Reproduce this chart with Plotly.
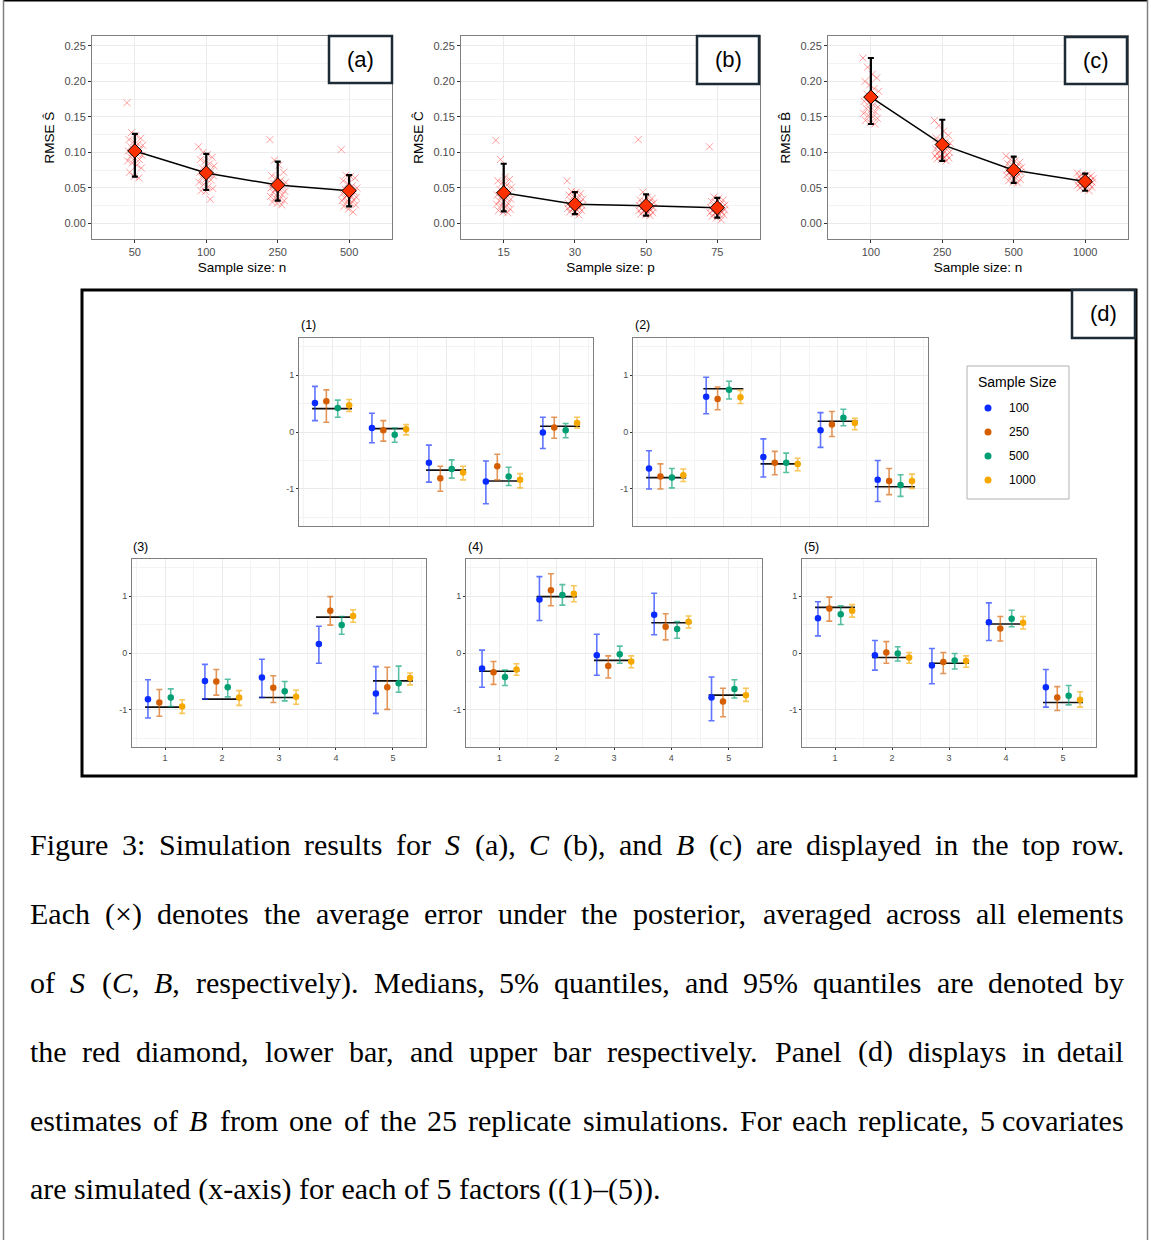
import plotly.graph_objects as go

# ======================= DATA: top row =======================
a_cats = ["50", "100", "250", "500"]
a_med = [0.102, 0.071, 0.054, 0.046]
a_q05 = [0.066, 0.047, 0.032, 0.024]
a_q95 = [0.126, 0.098, 0.087, 0.068]
a_pts_1 = [0.170, 0.128, 0.124, 0.120, 0.118, 0.115, 0.112, 0.110, 0.108, 0.106, 0.104, 0.102, 0.100,
           0.098, 0.096, 0.094, 0.092, 0.090, 0.088, 0.085, 0.082, 0.078, 0.072, 0.066, 0.064]
a_pts_2 = [0.108, 0.100, 0.097, 0.093, 0.090, 0.087, 0.084, 0.081, 0.078, 0.076, 0.074, 0.072, 0.071,
           0.069, 0.067, 0.065, 0.063, 0.061, 0.058, 0.055, 0.052, 0.049, 0.046, 0.045, 0.034]
a_pts_3 = [0.118, 0.089, 0.082, 0.072, 0.067, 0.064, 0.061, 0.058, 0.056, 0.054, 0.052, 0.050, 0.048,
           0.047, 0.045, 0.044, 0.042, 0.040, 0.038, 0.036, 0.034, 0.032, 0.030, 0.028, 0.026]
a_pts_4 = [0.104, 0.068, 0.066, 0.064, 0.060, 0.056, 0.053, 0.050, 0.048, 0.046, 0.044, 0.042, 0.040,
           0.038, 0.037, 0.036, 0.034, 0.033, 0.032, 0.030, 0.028, 0.026, 0.024, 0.020, 0.016]

b_cats = ["15", "30", "50", "75"]
b_med = [0.043, 0.027, 0.025, 0.022]
b_q05 = [0.017, 0.013, 0.011, 0.008]
b_q95 = [0.084, 0.044, 0.041, 0.036]
b_pts_1 = [0.117, 0.090, 0.065, 0.062, 0.060, 0.057, 0.054, 0.051, 0.048, 0.045, 0.042, 0.040, 0.038,
           0.036, 0.034, 0.032, 0.030, 0.028, 0.027, 0.025, 0.023, 0.020, 0.018, 0.016, 0.015]
b_pts_2 = [0.060, 0.045, 0.044, 0.042, 0.040, 0.038, 0.036, 0.034, 0.032, 0.030, 0.029, 0.028, 0.027,
           0.026, 0.025, 0.024, 0.023, 0.022, 0.021, 0.020, 0.019, 0.018, 0.016, 0.014, 0.012]
b_pts_3 = [0.118, 0.044, 0.037, 0.035, 0.033, 0.031, 0.030, 0.029, 0.028, 0.027, 0.026, 0.025, 0.024,
           0.023, 0.022, 0.021, 0.020, 0.019, 0.018, 0.017, 0.016, 0.015, 0.013, 0.012, 0.011]
b_pts_4 = [0.108, 0.037, 0.035, 0.033, 0.031, 0.029, 0.027, 0.026, 0.025, 0.024, 0.023, 0.022, 0.021,
           0.020, 0.019, 0.018, 0.017, 0.016, 0.015, 0.014, 0.013, 0.012, 0.010, 0.008, 0.005]

c_cats = ["100", "250", "500", "1000"]
c_med = [0.178, 0.111, 0.075, 0.059]
c_q05 = [0.140, 0.088, 0.057, 0.046]
c_q95 = [0.233, 0.146, 0.094, 0.070]
c_pts_1 = [0.233, 0.220, 0.210, 0.205, 0.200, 0.195, 0.190, 0.186, 0.182, 0.178, 0.175, 0.172, 0.170,
           0.167, 0.164, 0.162, 0.160, 0.157, 0.155, 0.152, 0.150, 0.148, 0.145, 0.142, 0.140]
c_pts_2 = [0.145, 0.138, 0.130, 0.124, 0.120, 0.117, 0.115, 0.113, 0.111, 0.109, 0.107, 0.105, 0.103,
           0.101, 0.100, 0.099, 0.097, 0.096, 0.095, 0.094, 0.093, 0.092, 0.091, 0.090, 0.088]
c_pts_3 = [0.095, 0.090, 0.088, 0.086, 0.084, 0.082, 0.080, 0.079, 0.078, 0.077, 0.076, 0.075, 0.074,
           0.073, 0.072, 0.071, 0.070, 0.069, 0.068, 0.066, 0.064, 0.062, 0.060, 0.058, 0.057]
c_pts_4 = [0.071, 0.069, 0.068, 0.067, 0.066, 0.065, 0.064, 0.063, 0.062, 0.061, 0.060, 0.060, 0.059,
           0.058, 0.058, 0.057, 0.056, 0.055, 0.054, 0.053, 0.052, 0.051, 0.050, 0.048, 0.046]

top_yticks = [0.00, 0.05, 0.10, 0.15, 0.20, 0.25]

# ======================= DATA: panel (d) =======================
covariates = [1, 2, 3, 4, 5]
sample_sizes = ["100", "250", "500", "1000"]

f1_truth = [0.41, 0.06, -0.67, -0.86, 0.10]
f1_est_100 = [0.51, 0.07, -0.54, -0.87, -0.01]
f1_lo_100 = [0.20, -0.19, -0.88, -1.26, -0.29]
f1_hi_100 = [0.80, 0.33, -0.23, -0.51, 0.26]
f1_est_250 = [0.54, 0.03, -0.81, -0.60, 0.08]
f1_lo_250 = [0.17, -0.16, -1.04, -0.84, -0.11]
f1_hi_250 = [0.74, 0.20, -0.60, -0.39, 0.26]
f1_est_500 = [0.42, -0.05, -0.65, -0.78, 0.03]
f1_lo_500 = [0.26, -0.18, -0.81, -0.94, -0.10]
f1_hi_500 = [0.56, 0.07, -0.49, -0.62, 0.15]
f1_est_1000 = [0.47, 0.05, -0.71, -0.84, 0.16]
f1_lo_1000 = [0.36, -0.05, -0.84, -0.98, 0.07]
f1_hi_1000 = [0.57, 0.13, -0.60, -0.73, 0.26]

f2_truth = [-0.80, 0.76, -0.56, 0.19, -0.96]
f2_est_100 = [-0.64, 0.62, -0.44, 0.03, -0.84]
f2_lo_100 = [-1.00, 0.32, -0.79, -0.27, -1.22]
f2_hi_100 = [-0.33, 0.96, -0.12, 0.34, -0.50]
f2_est_250 = [-0.78, 0.58, -0.54, 0.13, -0.86]
f2_lo_250 = [-1.00, 0.39, -0.75, -0.08, -1.10]
f2_hi_250 = [-0.56, 0.79, -0.34, 0.36, -0.64]
f2_est_500 = [-0.80, 0.74, -0.54, 0.25, -0.93]
f2_lo_500 = [-0.98, 0.58, -0.71, 0.11, -1.13]
f2_hi_500 = [-0.64, 0.89, -0.37, 0.40, -0.75]
f2_est_1000 = [-0.76, 0.61, -0.56, 0.16, -0.86]
f2_lo_1000 = [-0.87, 0.50, -0.68, 0.04, -0.99]
f2_hi_1000 = [-0.65, 0.73, -0.46, 0.24, -0.74]

f3_truth = [-0.95, -0.81, -0.78, 0.63, -0.49]
f3_est_100 = [-0.81, -0.49, -0.43, 0.16, -0.71]
f3_lo_100 = [-1.14, -0.81, -0.78, -0.18, -1.06]
f3_hi_100 = [-0.47, -0.20, -0.11, 0.47, -0.24]
f3_est_250 = [-0.87, -0.50, -0.61, 0.74, -0.60]
f3_lo_250 = [-1.11, -0.74, -0.87, 0.49, -0.99]
f3_hi_250 = [-0.64, -0.29, -0.40, 0.99, -0.25]
f3_est_500 = [-0.78, -0.60, -0.67, 0.49, -0.53]
f3_lo_500 = [-0.94, -0.77, -0.84, 0.33, -0.69]
f3_hi_500 = [-0.63, -0.46, -0.50, 0.64, -0.23]
f3_est_1000 = [-0.94, -0.78, -0.77, 0.65, -0.44]
f3_lo_1000 = [-1.06, -0.92, -0.90, 0.54, -0.56]
f3_hi_1000 = [-0.82, -0.66, -0.65, 0.76, -0.35]

f4_truth = [-0.32, 0.99, -0.13, 0.53, -0.74]
f4_est_100 = [-0.27, 0.94, -0.04, 0.67, -0.78]
f4_lo_100 = [-0.60, 0.57, -0.39, 0.32, -1.19]
f4_hi_100 = [0.05, 1.34, 0.33, 1.05, -0.42]
f4_est_250 = [-0.34, 1.10, -0.23, 0.46, -0.85]
f4_lo_250 = [-0.55, 0.83, -0.44, 0.23, -1.12]
f4_hi_250 = [-0.15, 1.39, -0.05, 0.69, -0.62]
f4_est_500 = [-0.42, 1.02, -0.02, 0.42, -0.63]
f4_lo_500 = [-0.57, 0.84, -0.18, 0.26, -0.79]
f4_hi_500 = [-0.30, 1.20, 0.12, 0.55, -0.47]
f4_est_1000 = [-0.29, 1.04, -0.15, 0.55, -0.74]
f4_lo_1000 = [-0.39, 0.90, -0.26, 0.44, -0.85]
f4_hi_1000 = [-0.19, 1.18, -0.05, 0.65, -0.62]

f5_truth = [0.80, -0.08, -0.18, 0.51, -0.87]
f5_est_100 = [0.61, -0.04, -0.22, 0.54, -0.60]
f5_lo_100 = [0.30, -0.30, -0.54, 0.22, -0.95]
f5_hi_100 = [0.90, 0.22, 0.08, 0.88, -0.29]
f5_est_250 = [0.78, 0.01, -0.16, 0.43, -0.78]
f5_lo_250 = [0.56, -0.18, -0.36, 0.21, -1.01]
f5_hi_250 = [0.98, 0.20, 0.01, 0.64, -0.59]
f5_est_500 = [0.68, -0.01, -0.13, 0.60, -0.75]
f5_lo_500 = [0.50, -0.14, -0.28, 0.46, -0.91]
f5_hi_500 = [0.83, 0.11, -0.01, 0.75, -0.57]
f5_est_1000 = [0.74, -0.08, -0.14, 0.53, -0.82]
f5_lo_1000 = [0.63, -0.18, -0.25, 0.42, -0.95]
f5_hi_1000 = [0.85, 0.01, -0.05, 0.64, -0.68]

d_yticks = [-1, 0, 1]
d_yticktext = ["-1", "0", "1"]

caption_lines = [
    "Figure 3: Simulation results for <i>S</i> (a), <i>C</i> (b), and <i>B</i> (c) are displayed in the top row.",
    "Each (×) denotes the average error under the posterior, averaged across all elements",
    "of <i>S</i> (<i>C</i>, <i>B</i>, respectively).  Medians, 5% quantiles, and 95% quantiles are denoted by",
    "the red diamond, lower bar, and upper bar respectively.  Panel (d) displays in detail",
    "estimates of <i>B</i> from one of the 25 replicate simulations. For each replicate, 5 covariates",
    "are simulated (x-axis) for each of 5 factors ((1)–(5)).",
]

# ======================= LAYOUT HELPERS =======================
W, H = 1151, 1240
SANS = "Liberation Sans, Arial, sans-serif"
SERIF = "Liberation Serif, Times New Roman, serif"
GRID = "#EBEBEB"
MINOR = "#F3F3F3"
BORDER = "#7F7F7F"
TICKC = "#4D4D4D"
SS_COLORS = {"100": "#0A2BFF", "250": "#D55E00", "500": "#009E73", "1000": "#F5A800"}
SS_ERR = {"100": "rgba(10,43,255,0.65)", "250": "rgba(213,94,0,0.65)",
          "500": "rgba(0,158,115,0.65)", "1000": "rgba(245,168,0,0.65)"}


def fx(p):
    return p / W


def fy(p):
    return 1 - p / H


fig = go.Figure()
layout = dict(width=W, height=H, margin=dict(l=0, r=0, t=0, b=0),
              paper_bgcolor="white", plot_bgcolor="white", showlegend=False,
              font=dict(family=SANS))
shapes = []
annotations = []


def ax_names(k):
    return ("xaxis" if k == 1 else f"xaxis{k}", "yaxis" if k == 1 else f"yaxis{k}",
            "x" if k == 1 else f"x{k}", "y" if k == 1 else f"y{k}")


jit = [((i * 7) % 25 - 12) / 12 * 0.11 for i in range(25)]

top_panels = [
    dict(cats=a_cats, med=a_med, lo=a_q05, hi=a_q95, pts=[a_pts_1, a_pts_2, a_pts_3, a_pts_4],
         px=(92, 392), ytitle="RMSE Ŝ", xtitle="Sample size: n", tag="(a)", box=(329, 36, 392, 83)),
    dict(cats=b_cats, med=b_med, lo=b_q05, hi=b_q95, pts=[b_pts_1, b_pts_2, b_pts_3, b_pts_4],
         px=(461, 760), ytitle="RMSE Ĉ", xtitle="Sample size: p", tag="(b)", box=(697, 36, 759, 84)),
    dict(cats=c_cats, med=c_med, lo=c_q05, hi=c_q95, pts=[c_pts_1, c_pts_2, c_pts_3, c_pts_4],
         px=(828, 1128), ytitle="RMSE B̂", xtitle="Sample size: n", tag="(c)", box=(1065, 37, 1127, 84)),
]

k = 0
for p in top_panels:
    k += 1
    xa, ya, xr, yr = ax_names(k)
    pos = list(range(1, len(p["cats"]) + 1))
    layout[xa] = dict(domain=[fx(p["px"][0]), fx(p["px"][1])], anchor=yr, range=[0.4, 4.6],
                      tickmode="array", tickvals=pos, ticktext=p["cats"],
                      showgrid=True, gridcolor=GRID, gridwidth=1, zeroline=False,
                      showline=True, mirror=True, linecolor=BORDER, linewidth=1,
                      ticks="outside", ticklen=3, tickcolor="#333333",
                      tickfont=dict(size=11, color=TICKC, family=SANS),
                      title=dict(text=p["xtitle"], font=dict(size=13.5, color="black", family=SANS), standoff=5))
    layout[ya] = dict(domain=[fy(239), fy(36)], anchor=xr, range=[-0.022, 0.264],
                      tickmode="array", tickvals=top_yticks, ticktext=[f"{v:.2f}" for v in top_yticks],
                      showgrid=True, gridcolor=GRID, gridwidth=1, zeroline=False,
                      minor=dict(tickmode="array", tickvals=[v + 0.025 for v in top_yticks[:-1]],
                                 showgrid=True, gridcolor=MINOR, gridwidth=0.6, ticks=""),
                      showline=True, mirror=True, linecolor=BORDER, linewidth=1,
                      ticks="outside", ticklen=3, tickcolor="#333333",
                      tickfont=dict(size=11, color=TICKC, family=SANS),
                      title=dict(text=p["ytitle"], font=dict(size=13.5, color="black", family=SANS), standoff=6))
    xs, ys = [], []
    for ci, vals in enumerate(p["pts"]):
        for i, v in enumerate(vals):
            xs.append(pos[ci] + jit[i % 25])
            ys.append(v)
    fig.add_trace(go.Scatter(x=xs, y=ys, mode="markers", xaxis=xr, yaxis=yr,
                             marker=dict(symbol="x-thin", size=7, color="rgba(255,40,40,0.45)",
                                         line=dict(width=1, color="rgba(255,40,40,0.45)"))))
    fig.add_trace(go.Scatter(x=pos, y=p["med"], mode="lines", xaxis=xr, yaxis=yr,
                             line=dict(color="black", width=1.5)))
    fig.add_trace(go.Scatter(x=pos, y=p["med"], mode="markers", xaxis=xr, yaxis=yr,
                             marker=dict(size=1, color="rgba(0,0,0,0)"),
                             error_y=dict(type="data", symmetric=False,
                                          array=[h - m for h, m in zip(p["hi"], p["med"])],
                                          arrayminus=[m - l for m, l in zip(p["med"], p["lo"])],
                                          color="black", thickness=2.2, width=3)))
    fig.add_trace(go.Scatter(x=pos, y=p["med"], mode="markers", xaxis=xr, yaxis=yr,
                             marker=dict(symbol="diamond", size=11, color="#FF3000",
                                         line=dict(color="black", width=1))))
    bx0, by0, bx1, by1 = p["box"]
    shapes.append(dict(type="rect", xref="paper", yref="paper", x0=fx(bx0), x1=fx(bx1), y0=fy(by1), y1=fy(by0),
                       line=dict(color="#1C2B36", width=2.5), fillcolor="white", layer="above"))
    annotations.append(dict(text=p["tag"], x=fx((bx0 + bx1) / 2), y=fy((by0 + by1) / 2), xref="paper", yref="paper",
                            showarrow=False, xanchor="center", yanchor="middle",
                            font=dict(size=22, color="black", family=SANS)))

# ======================= PANEL (d) =======================
d_data = [
    (f1_truth, [(f1_est_100, f1_lo_100, f1_hi_100), (f1_est_250, f1_lo_250, f1_hi_250),
                (f1_est_500, f1_lo_500, f1_hi_500), (f1_est_1000, f1_lo_1000, f1_hi_1000)]),
    (f2_truth, [(f2_est_100, f2_lo_100, f2_hi_100), (f2_est_250, f2_lo_250, f2_hi_250),
                (f2_est_500, f2_lo_500, f2_hi_500), (f2_est_1000, f2_lo_1000, f2_hi_1000)]),
    (f3_truth, [(f3_est_100, f3_lo_100, f3_hi_100), (f3_est_250, f3_lo_250, f3_hi_250),
                (f3_est_500, f3_lo_500, f3_hi_500), (f3_est_1000, f3_lo_1000, f3_hi_1000)]),
    (f4_truth, [(f4_est_100, f4_lo_100, f4_hi_100), (f4_est_250, f4_lo_250, f4_hi_250),
                (f4_est_500, f4_lo_500, f4_hi_500), (f4_est_1000, f4_lo_1000, f4_hi_1000)]),
    (f5_truth, [(f5_est_100, f5_lo_100, f5_hi_100), (f5_est_250, f5_lo_250, f5_hi_250),
                (f5_est_500, f5_lo_500, f5_hi_500), (f5_est_1000, f5_lo_1000, f5_hi_1000)]),
]
d_boxes = [
    ((299, 593), (338, 526), "(1)", False, (299, 325)),
    ((633, 928), (338, 526), "(2)", False, (633, 325)),
    ((132, 426), (559, 747), "(3)", True, (131, 547)),
    ((466, 762), (559, 747), "(4)", True, (466, 547)),
    ((802, 1096), (559, 747), "(5)", True, (802, 547)),
]
dodge = [-0.3, -0.1, 0.1, 0.3]

for (truth, series), (xpx, ypx, title, showx, tpos) in zip(d_data, d_boxes):
    k += 1
    xa, ya, xr, yr = ax_names(k)
    layout[xa] = dict(domain=[fx(xpx[0]), fx(xpx[1])], anchor=yr, range=[0.42, 5.58],
                      tickmode="array", tickvals=covariates, ticktext=[str(c) for c in covariates],
                      showticklabels=showx, showgrid=True, gridcolor=GRID, gridwidth=1, zeroline=False,
                      minor=dict(tickmode="array", tickvals=[c - 0.5 for c in covariates] + [5.5],
                                 showgrid=True, gridcolor=MINOR, gridwidth=0.6, ticks=""),
                      showline=True, mirror=True, linecolor=BORDER, linewidth=1,
                      ticks="outside" if showx else "", ticklen=2, tickcolor="#333333",
                      tickfont=dict(size=9, color=TICKC, family=SANS))
    layout[ya] = dict(domain=[fy(ypx[1]), fy(ypx[0])], anchor=xr, range=[-1.65, 1.65],
                      tickmode="array", tickvals=d_yticks, ticktext=d_yticktext,
                      showgrid=True, gridcolor=GRID, gridwidth=1, zeroline=False,
                      minor=dict(tickmode="array", tickvals=[-1.5, -0.5, 0.5, 1.5],
                                 showgrid=True, gridcolor=MINOR, gridwidth=0.6, ticks=""),
                      showline=True, mirror=True, linecolor=BORDER, linewidth=1,
                      ticks="outside", ticklen=2, tickcolor="#333333",
                      tickfont=dict(size=9, color=TICKC, family=SANS))
    lx, ly = [], []
    for c, t in zip(covariates, truth):
        lx += [c - 0.35, c + 0.35, None]
        ly += [t, t, None]
    fig.add_trace(go.Scatter(x=lx, y=ly, mode="lines", xaxis=xr, yaxis=yr,
                             line=dict(color="#111111", width=1.6)))
    for si, (ss, (est, lo, hi)) in enumerate(zip(sample_sizes, series)):
        fig.add_trace(go.Scatter(
            x=[c + dodge[si] for c in covariates], y=est, mode="markers", xaxis=xr, yaxis=yr,
            marker=dict(size=6.5, color=SS_COLORS[ss]),
            error_y=dict(type="data", symmetric=False,
                         array=[h - e for h, e in zip(hi, est)],
                         arrayminus=[e - l for e, l in zip(est, lo)],
                         color=SS_ERR[ss], thickness=1.6, width=3)))
    annotations.append(dict(text=title, x=fx(tpos[0]), y=fy(tpos[1]), xref="paper", yref="paper",
                            showarrow=False, xanchor="left", yanchor="middle",
                            font=dict(size=12.5, color="black", family=SANS)))

# (d) frame and label
shapes.append(dict(type="rect", xref="paper", yref="paper", x0=fx(82), x1=fx(1136), y0=fy(776), y1=fy(290),
                   line=dict(color="black", width=3), fillcolor="rgba(0,0,0,0)", layer="above"))
shapes.append(dict(type="rect", xref="paper", yref="paper", x0=fx(1072), x1=fx(1135), y0=fy(338), y1=fy(290),
                   line=dict(color="#1C2B36", width=2.5), fillcolor="white", layer="above"))
annotations.append(dict(text="(d)", x=fx(1103.5), y=fy(314), xref="paper", yref="paper", showarrow=False,
                        xanchor="center", yanchor="middle", font=dict(size=22, color="black", family=SANS)))

# legend (manual)
shapes.append(dict(type="rect", xref="paper", yref="paper", x0=fx(967), x1=fx(1069), y0=fy(499), y1=fy(366),
                   line=dict(color="#B0B0B0", width=1), fillcolor="white", layer="above"))
annotations.append(dict(text="Sample Size", x=fx(976), y=fy(382), xref="paper", yref="paper", showarrow=False,
                        xanchor="left", yanchor="middle", font=dict(size=14, color="black", family=SANS)))
for i, ss in enumerate(sample_sizes):
    cy = 408 + 24 * i
    shapes.append(dict(type="circle", xref="paper", yref="paper", x0=fx(984.5), x1=fx(991.5),
                       y0=fy(cy + 3.5), y1=fy(cy - 3.5), line=dict(width=0), fillcolor=SS_COLORS[ss], layer="above"))
    annotations.append(dict(text=ss, x=fx(1007), y=fy(cy), xref="paper", yref="paper", showarrow=False,
                            xanchor="left", yanchor="middle", font=dict(size=12, color="black", family=SANS)))

# page frame
shapes.append(dict(type="line", xref="paper", yref="paper", x0=fx(3), x1=fx(1148), y0=fy(0.8), y1=fy(0.8),
                   line=dict(color="black", width=1.6)))
shapes.append(dict(type="line", xref="paper", yref="paper", x0=fx(3.5), x1=fx(3.5), y0=0, y1=1,
                   line=dict(color="#808080", width=1.5)))
shapes.append(dict(type="line", xref="paper", yref="paper", x0=fx(1147.5), x1=fx(1147.5), y0=0, y1=1,
                   line=dict(color="#808080", width=1.5)))

# ======================= CAPTION (justified) =======================
TIMES_W = {' ': 250, 'a': 444, 'b': 500, 'c': 444, 'd': 500, 'e': 444, 'f': 333, 'g': 500, 'h': 500,
           'i': 278, 'j': 278, 'k': 500, 'l': 278, 'm': 778, 'n': 500, 'o': 500, 'p': 500, 'q': 500,
           'r': 333, 's': 389, 't': 278, 'u': 500, 'v': 500, 'w': 722, 'x': 500, 'y': 500, 'z': 444,
           'A': 722, 'B': 667, 'C': 667, 'D': 722, 'E': 611, 'F': 556, 'G': 722, 'H': 722, 'I': 333,
           'J': 389, 'K': 722, 'L': 611, 'M': 889, 'N': 722, 'O': 722, 'P': 556, 'Q': 722, 'R': 667,
           'S': 556, 'T': 611, 'U': 722, 'V': 722, 'W': 944, 'X': 722, 'Y': 722, 'Z': 611,
           '(': 333, ')': 333, ',': 250, '.': 250, ':': 278, '%': 833, '-': 333, '×': 564, '–': 500}
CAP_SIZE = 30
CAP_L, CAP_R = 28, 1126


def strip_tags(s):
    out, skip = "", False
    for ch in s:
        if ch == "<":
            skip = True
        elif ch == ">":
            skip = False
        elif not skip:
            out += ch
    return out


def tw(s):
    return sum(TIMES_W.get(ch, 500) for ch in strip_tags(s)) * CAP_SIZE / 1000.0


for li, line in enumerate(caption_lines):
    cy = 845 + li * 68.8
    justify = li < len(caption_lines) - 1
    if not justify:
        annotations.append(dict(text=line, x=fx(CAP_L), y=fy(cy), xref="paper", yref="paper", showarrow=False,
                                xanchor="left", yanchor="middle",
                                font=dict(size=CAP_SIZE, color="black", family=SERIF)))
        continue
    words = line.split()
    widths = [tw(w) for w in words]
    gap = (CAP_R - CAP_L - sum(widths)) / (len(words) - 1)
    xpos = CAP_L
    for j, w in enumerate(words):
        last = j == len(words) - 1
        annotations.append(dict(text=w, x=fx(CAP_R if last else xpos), y=fy(cy), xref="paper", yref="paper",
                                showarrow=False, xanchor="right" if last else "left", yanchor="middle",
                                font=dict(size=CAP_SIZE, color="black", family=SERIF)))
        xpos += widths[j] + gap

layout["shapes"] = shapes
layout["annotations"] = annotations
fig.update_layout(**layout)
fig.write_html("out.html", config={"displayModeBar": False},
               post_script="document.body.style.margin='0';document.body.style.padding='0';"
                           "document.documentElement.style.overflow='hidden';")
